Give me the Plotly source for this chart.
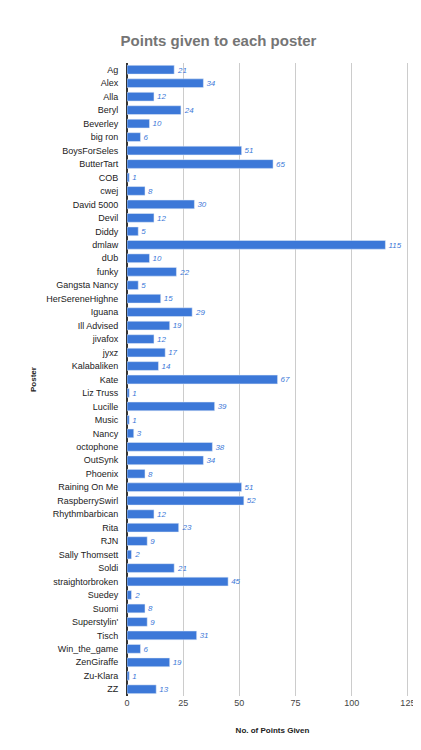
import plotly.graph_objects as go

posters = ["Ag", "Alex", "Alla", "Beryl", "Beverley", "big ron", "BoysForSeles", "ButterTart",
           "COB", "cwej", "David 5000", "Devil", "Diddy", "dmlaw", "dUb", "funky", "Gangsta Nancy",
           "HerSereneHighne", "Iguana", "Ill Advised", "jivafox", "jyxz", "Kalabaliken", "Kate",
           "Liz Truss", "Lucille", "Music", "Nancy", "octophone", "OutSynk", "Phoenix",
           "Raining On Me", "RaspberrySwirl", "Rhythmbarbican", "Rita", "RJN", "Sally Thomsett",
           "Soldi", "straightorbroken", "Suedey", "Suomi", "Superstylin'", "Tisch",
           "Win_the_game", "ZenGiraffe", "Zu-Klara", "ZZ"]
points = [21, 34, 12, 24, 10, 6, 51, 65, 1, 8, 30, 12, 5, 115, 10, 22, 5, 15, 29, 19, 12, 17,
          14, 67, 1, 39, 1, 3, 38, 34, 8, 51, 52, 12, 23, 9, 2, 21, 45, 2, 8, 9, 31, 6, 19, 1, 13]

fig = go.Figure(go.Bar(
    x=points, y=posters, orientation="h",
    marker_color="#3c78d8", width=0.65,
    text=points, textposition="outside", cliponaxis=False,
    textfont=dict(color="#3c78d8", size=10, family="Arial, Liberation Sans"),
    texttemplate="<i>%{text}</i>",
))

fig.update_layout(
    width=421, height=750,
    margin=dict(l=119, r=11, t=55, b=62),
    plot_bgcolor="white", paper_bgcolor="white",
    showlegend=False,
    title=dict(text="<b>Points given to each poster</b>", x=0.5, y=0.963,
               font=dict(size=15, color="#757575", family="Arial, Liberation Sans")),
    font=dict(family="Arial, Liberation Sans", size=9, color="#222"),
    bargap=0.35,
)
fig.update_xaxes(range=[0, 129.5], tickvals=[0, 25, 50, 75, 100, 125], automargin=False,
                 gridcolor="#cccccc", zeroline=True, zerolinecolor="#333",
                 tickfont=dict(size=9, color="#444"),
                 title=dict(text="<b>No. of Points Given</b>", font=dict(size=8, color="#222"),
                            standoff=20))
fig.update_yaxes(autorange="reversed", ticks="outside", ticklen=6, tickcolor="rgba(0,0,0,0)",
                 automargin=False, tickfont=dict(size=9, color="#222"),
                 title=dict(text="<b>Poster</b>", font=dict(size=8, color="#222"), standoff=8))

fig.write_html("out.html")
